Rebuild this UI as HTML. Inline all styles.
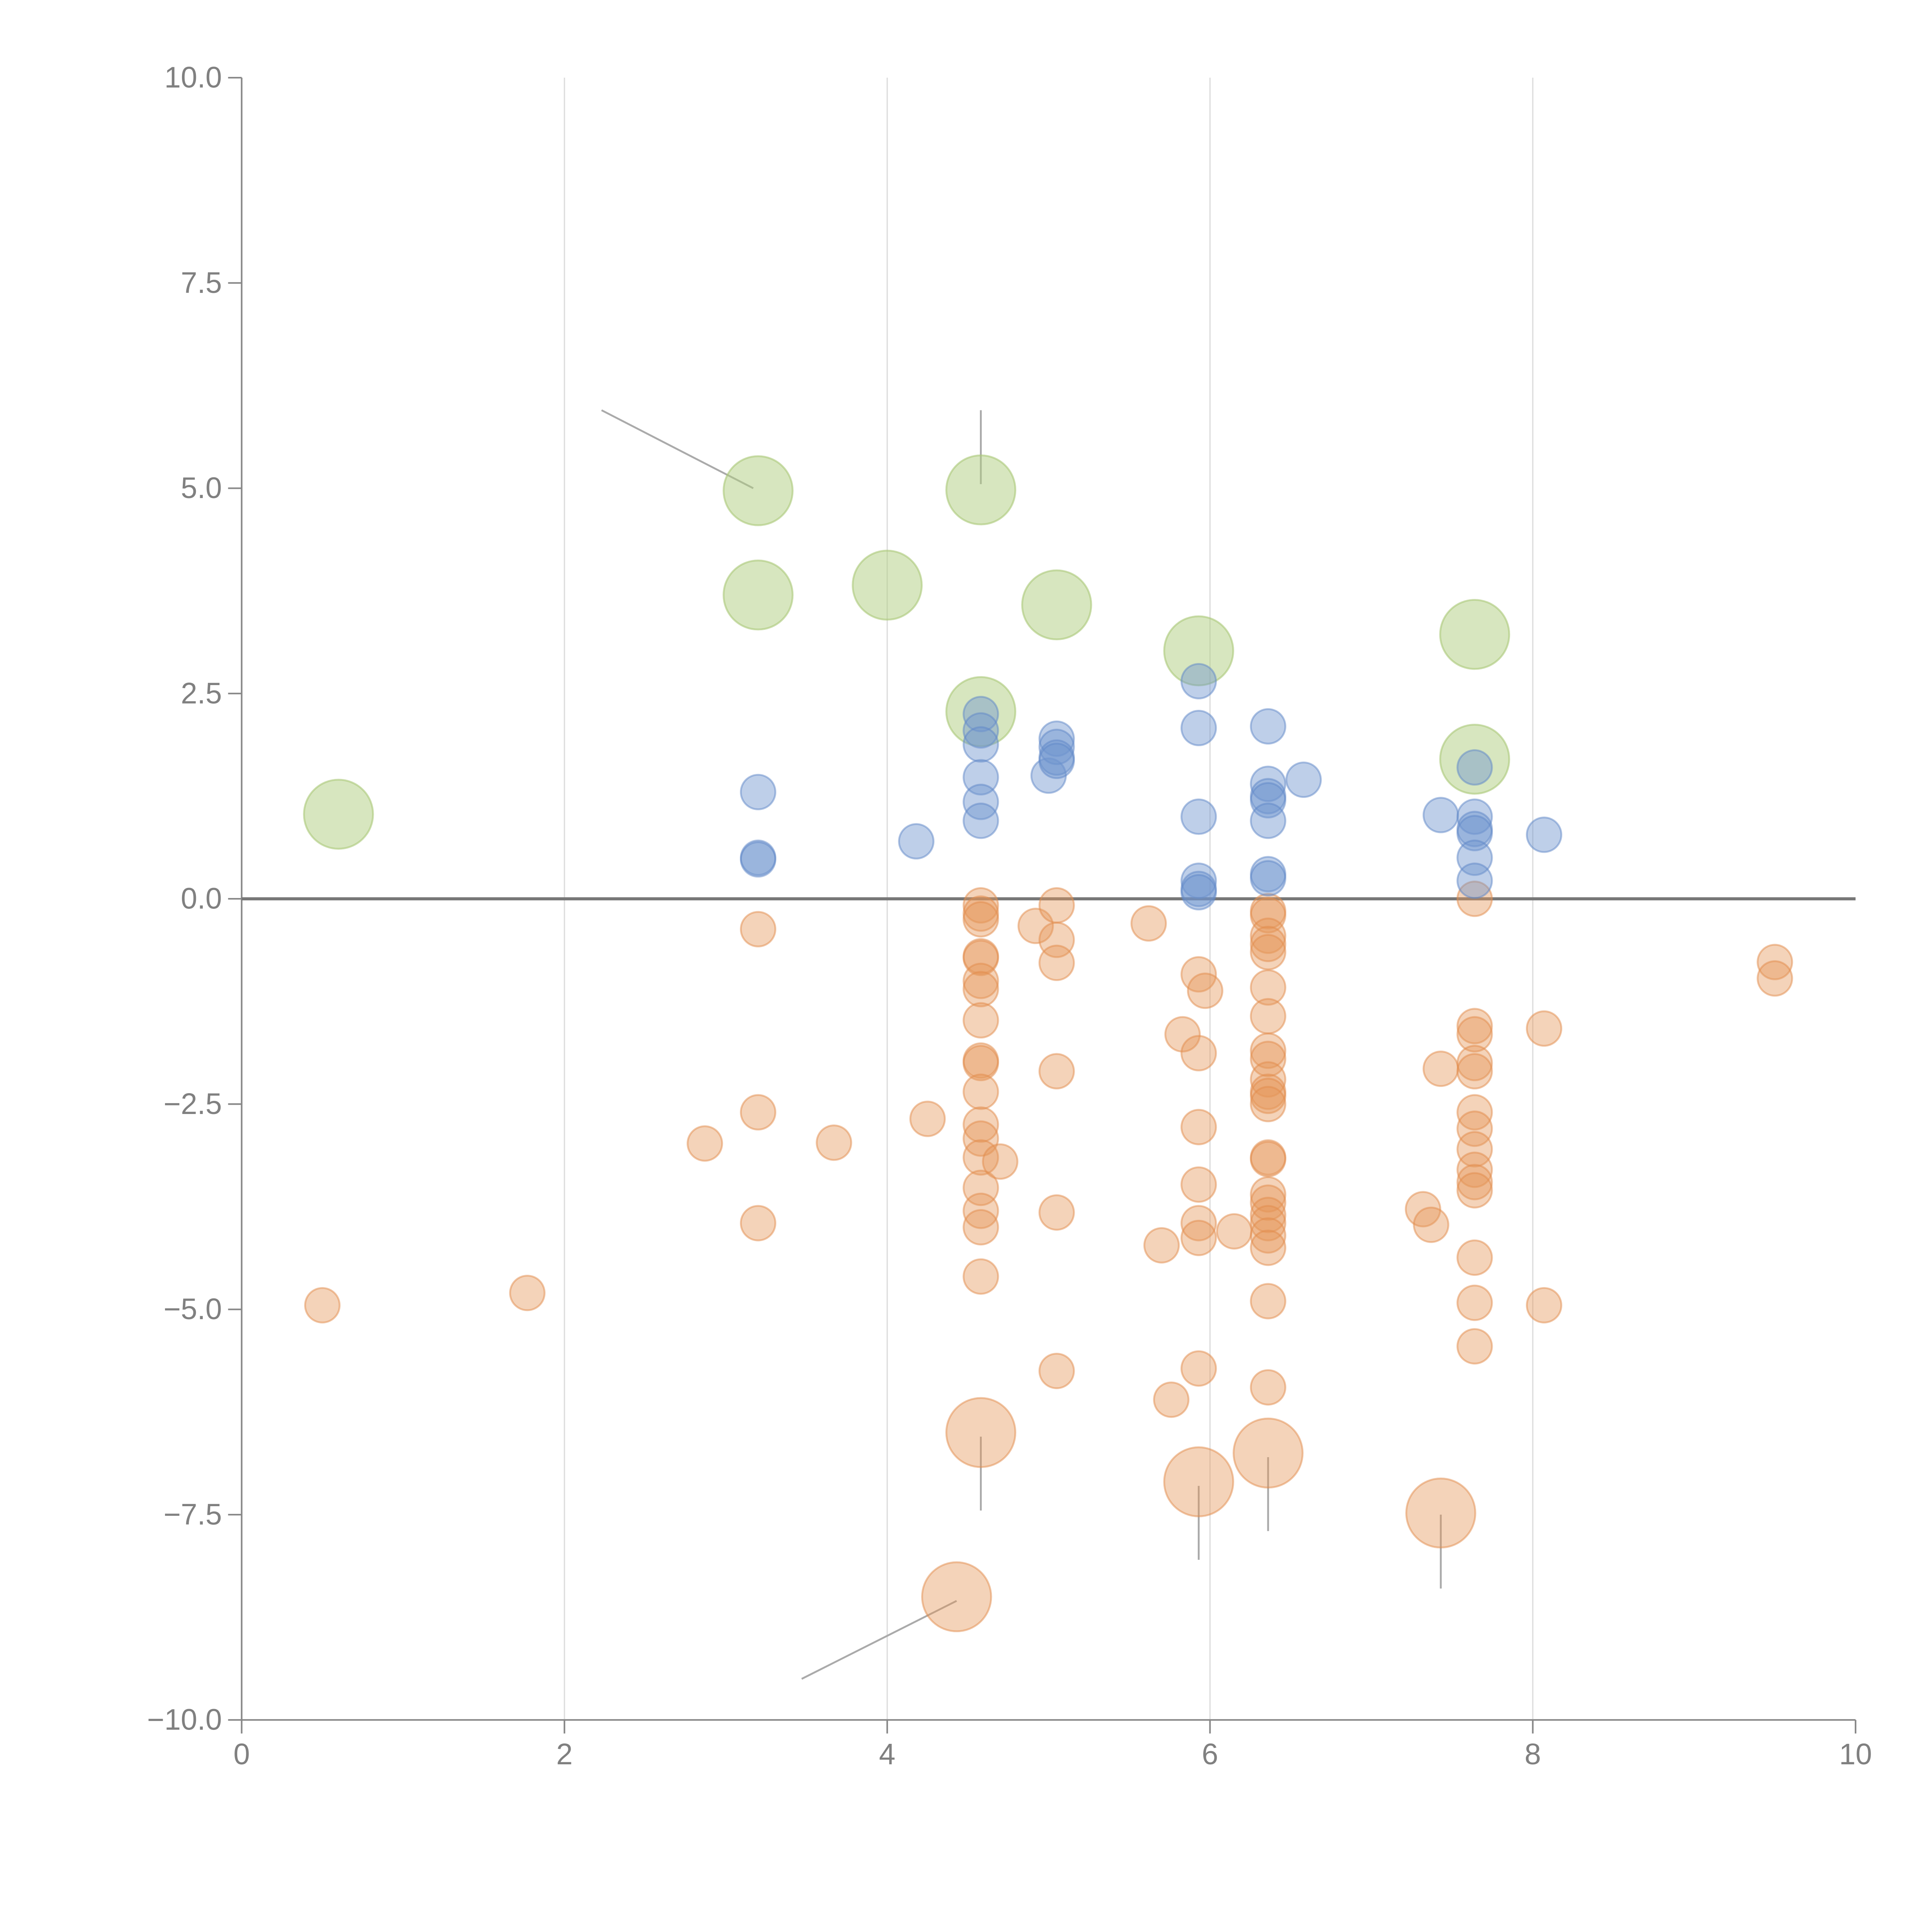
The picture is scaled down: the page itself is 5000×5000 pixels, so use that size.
<!DOCTYPE html>
<html><head><meta charset="utf-8">
<style>
html,body{margin:0;padding:0;background:#fff;}
svg{display:block;}
text{font-family:"Liberation Sans",Arial,sans-serif;fill:#808080;}
</style></head>
<body>
<svg id="chart" width="5000" height="5000" viewBox="0 0 1567 1567" xmlns="http://www.w3.org/2000/svg">
<g id="grid"></g>
<g id="axes"></g>
<g id="leaders"></g>
<g id="marks"></g>
</svg>
<script>
const xTicks=[0,2,4,6,8,10];
const yTicks=[10,7.5,5,2.5,0,-2.5,-5,-7.5,-10];
const yTickLabels=["10.0","7.5","5.0","2.5","0.0","\u22122.5","\u22125.0","\u22127.5","\u221210.0"];
const blueX=[3.2,3.2,3.2,4.18,4.58,4.58,4.58,4.58,4.58,4.58,5.0,5.05,5.05,5.05,5.05,5.93,5.93,5.93,5.93,5.93,5.93,6.36,6.36,6.36,6.36,6.36,6.36,6.36,6.58,7.43,7.64,7.64,7.64,7.64,7.64,7.64,8.07];
const blueY=[1.3,0.5,0.48,0.7,2.25,2.05,1.88,1.48,1.18,0.95,1.5,1.95,1.85,1.72,1.68,2.65,2.08,1.0,0.22,0.12,0.08,2.1,1.4,1.25,1.2,0.95,0.3,0.25,1.45,1.02,1.6,1.0,0.85,0.8,0.5,0.22,0.78];
const greenX=[0.6,3.2,3.2,4.0,4.58,4.58,5.05,5.93,7.64,7.64];
const greenY=[1.03,4.97,3.7,3.82,4.98,2.28,3.58,3.02,3.22,1.7];
const orangeX=[0.5,1.77,2.87,3.2,3.2,3.2,3.67,4.25,
4.58,4.58,4.58,4.58,4.58,4.58,4.58,4.58,4.58,4.58,4.58,4.58,4.58,4.58,4.58,4.58,4.58,4.58,
4.7,4.92,5.05,5.05,5.05,5.05,5.05,5.05,5.62,5.7,5.76,5.83,
5.93,5.93,5.93,5.93,5.93,5.93,5.93,5.97,6.15,
6.36,6.36,6.36,6.36,6.36,6.36,6.36,6.36,6.36,6.36,6.36,6.36,6.36,6.36,6.36,6.36,6.36,6.36,6.36,6.36,6.36,6.36,6.36,
7.32,7.37,7.43,
7.64,7.64,7.64,7.64,7.64,7.64,7.64,7.64,7.64,7.64,7.64,7.64,7.64,7.64,
8.07,8.07,9.5,9.5];
const orangeY=[-4.95,-4.8,-2.98,-0.37,-2.6,-3.95,-2.97,-2.68,
-0.08,-0.18,-0.25,-0.7,-0.72,-1.0,-1.1,-1.48,-1.97,-2.0,-2.35,-2.75,-2.92,-3.15,-3.52,-3.8,-4.0,-4.6,
-3.2,-0.33,-0.08,-0.5,-0.78,-2.1,-3.82,-5.75,-0.3,-4.22,-6.1,-1.65,
-0.92,-1.88,-2.78,-3.48,-3.95,-4.13,-5.72,-1.12,-4.05,
-0.15,-0.2,-0.45,-0.55,-0.65,-1.08,-1.43,-1.85,-1.95,-2.2,-2.35,-2.4,-2.5,-3.15,-3.17,-3.6,-3.7,-3.85,-3.95,-4.1,-4.25,-4.9,-5.95,
-3.78,-3.97,-2.07,
0.0,-1.55,-1.65,-2.0,-2.1,-2.6,-2.8,-3.05,-3.3,-3.45,-3.55,-4.37,-4.92,-5.45,
-1.58,-4.95,-0.77,-0.97];
const bigOrangeX=[4.58,5.93,6.36,7.43,4.43];
const bigOrangeY=[-6.5,-7.1,-6.75,-7.48,-8.5];

const NS="http://www.w3.org/2000/svg";
const X0=196,X1=1505,Y0=1395,Y1=63;
function sx(v){return X0+(v-0)/(10-0)*(X1-X0);}
function sy(v){return Y0-(v+10)/20*(Y0-Y1);}
function mk(tag,attrs,parent){const e=document.createElementNS(NS,tag);for(const k in attrs)e.setAttribute(k,attrs[k]);parent.appendChild(e);return e;}
const grid=document.getElementById('grid'),axes=document.getElementById('axes'),marks=document.getElementById('marks'),leaders=document.getElementById('leaders');

xTicks.forEach(t=>{
  if(t>0&&t<10){const g=mk('line',{x1:sx(t),x2:sx(t),y1:Y1,y2:Y0,stroke:'#dcdcdc','stroke-width':1},grid);
  
  }
  const tk=mk('line',{x1:sx(t),x2:sx(t),y1:Y0,y2:Y0+11,stroke:'#888','stroke-width':1.3},axes);
  
  
  const lb=mk('text',{x:sx(t),y:Y0+36,'text-anchor':'middle','font-size':24},axes);
  lb.textContent=String(t);
  
  
});
yTicks.forEach((t,i)=>{
  const tk=mk('line',{x1:X0-11,x2:X0,y1:sy(t),y2:sy(t),stroke:'#888','stroke-width':1.3},axes);
  
  
  const lb=mk('text',{x:X0-16,y:sy(t)+8,'text-anchor':'end','font-size':24},axes);
  lb.textContent=yTickLabels[i];
  
  
});
let a=mk('line',{x1:X0,x2:X0,y1:Y1,y2:Y0,stroke:'#888','stroke-width':1.3},axes);


a=mk('line',{x1:X0,x2:X1,y1:Y0,y2:Y0,stroke:'#888','stroke-width':1.3},axes);


a=mk('line',{x1:X0,x2:X1,y1:sy(0),y2:sy(0),stroke:'#777','stroke-width':2.5},axes);



function leader(x1,y1,x2,y2){const l=mk('line',{x1:sx(x1),y1:sy(y1),x2:sx(x2),y2:sy(y2),stroke:'#aaa','stroke-width':1.5},leaders);

}
leader(2.23,5.95,3.17,5.0);leader(4.58,5.95,4.58,5.05);
leader(4.58,-6.55,4.58,-7.45);leader(5.93,-7.15,5.93,-8.05);
leader(6.36,-6.8,6.36,-7.7);leader(7.43,-7.5,7.43,-8.4);
leader(4.43,-8.55,3.47,-9.5);

function dots(xs,ys,r,fill,stroke,name){
  xs.forEach((x,i)=>{
    const c=mk('circle',{cx:sx(x),cy:sy(ys[i]),r:r,fill:fill,stroke:stroke,'stroke-width':1.5},marks);
    
    
  });
}
dots(greenX,greenY,28,'rgba(176,205,128,0.5)','rgba(170,200,120,0.6)','green-bubble');
dots(orangeX,orangeY,14,'rgba(229,150,88,0.42)','rgba(225,140,75,0.5)','orange-point');
dots(bigOrangeX,bigOrangeY,28,'rgba(229,150,88,0.42)','rgba(225,140,75,0.5)','orange-bubble');
dots(blueX,blueY,14,'rgba(110,148,206,0.45)','rgba(95,135,200,0.5)','blue-point');
</script>
</body></html>
